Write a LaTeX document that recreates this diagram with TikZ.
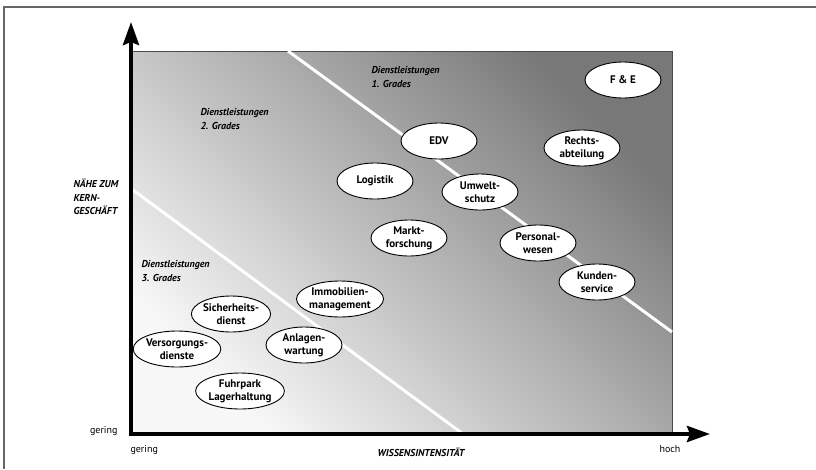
\documentclass[tikz,border=0pt]{standalone}
\usepackage{fontspec}
\setmainfont{PT Sans}[BoldItalicFont={PT Sans Bold Italic}]
\usetikzlibrary{arrows.meta,shapes.geometric}

\definecolor{feldhell}{gray}{0.97}
\definecolor{felddunkel}{gray}{0.47}

\tikzset{
  dienst/.style={ellipse, draw=black, line width=0.9pt, fill=white,
    minimum width=76pt, minimum height=36pt, inner sep=0pt,
    align=center, font=\fontsize{11}{13}\selectfont\bfseries},
  grad/.style={anchor=west, align=left,
    font=\fontsize{10}{13.5}\selectfont\bfseries\itshape},
  skala/.style={font=\fontsize{10}{12}\selectfont},
  achse/.style={line width=4pt, -{Stealth[length=23pt,width=16pt,inset=3pt]}},
  grenze/.style={white, line width=3pt}
}

\begin{document}
\begin{tikzpicture}[x=1pt,y=-1pt]
\useasboundingbox (0,0) rectangle (816,469);

% Rahmen
\draw[gray!80!black, line width=1.2pt] (816,7) -- (4,7) -- (4,469);

% Feld mit Verlauf
\shade[bottom color=feldhell, top color=felddunkel, shading angle=-45]
  (131,434) rectangle (672,51);
\draw[black!70, line width=1pt] (131,51) -- (672,51) -- (672,434);

% Grenzlinien
\coordinate (g1a) at (288,51);
\coordinate (g1b) at (672,332);
\coordinate (g2a) at (133,190);
\coordinate (g2b) at (463,434);
\draw[grenze] (g1a) -- (g1b);
\draw[grenze] (g2a) -- (g2b);

% Achsen
\coordinate (o) at (131,434);
\coordinate (ytip) at (131,22);
\coordinate (xtip) at (710,434);
\draw[achse] (o) -- (ytip);
\draw[achse] ([xshift=-2pt]o) -- (xtip);

% Bereiche
\node[grad] (grad1) at (368,77) {Dienstleistungen\\1. Grades};
\node[grad] (grad2) at (197,119) {Dienstleistungen\\2. Grades};
\node[grad] (grad3) at (138,271) {Dienstleistungen\\3. Grades};
\node[grad] (naehe) at (70,197) {NÄHE ZUM\\KERN-\\GESCHÄFT};

% Dienste
\node[dienst] (fe) at (623,80) {F \& E};
\node[dienst] (edv) at (439,141) {EDV};
\node[dienst] (recht) at (582,148) {Rechts-\\abteilung};
\node[dienst] (logistik) at (375,181) {Logistik};
\node[dienst] (umwelt) at (480,192) {Umwelt-\\schutz};
\node[dienst] (markt) at (409,238) {Markt-\\forschung};
\node[dienst] (personal) at (538,243) {Personal-\\wesen};
\node[dienst] (kunden) at (597,282) {Kunden-\\service};
\node[dienst] (immo) at (340,299) {Immobilien-\\management};
\node[dienst] (sicher) at (231,314) {Sicherheits-\\dienst};
\node[dienst] (versorg) at (177,349) {Versorgungs-\\dienste};
\node[dienst] (anlagen) at (304,345) {Anlagen-\\wartung};
\node[dienst] (fuhrpark) at (240,391) {Fuhrpark\\Lagerhaltung};

% Skala
\node[skala, anchor=east] (yger) at (121,431) {gering};
\node[skala, anchor=west] (xger) at (127,450) {gering};
\node[skala] (hoch) at (670,449) {hoch};
\node[font=\fontsize{10}{12}\selectfont\bfseries\itshape] (wissen) at (421,452) {WISSENSINTENSITÄT};
\end{tikzpicture}
\end{document}
